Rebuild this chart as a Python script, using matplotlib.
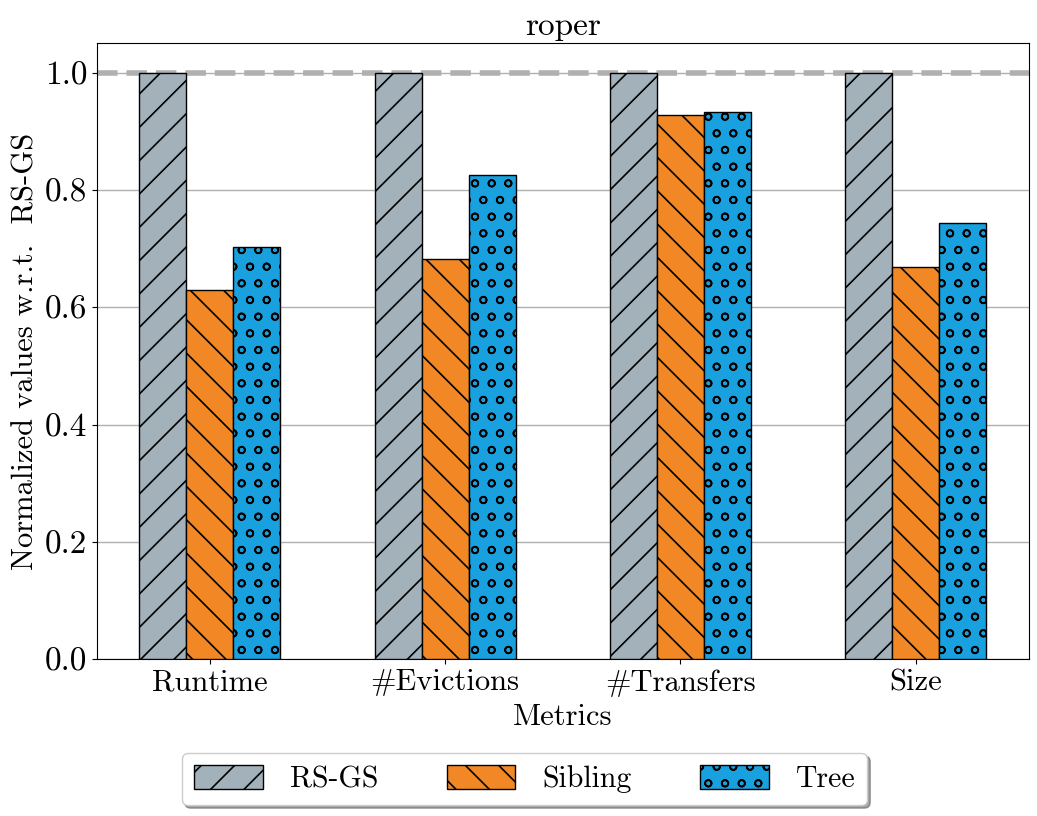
import matplotlib
matplotlib.use("Agg")
import matplotlib.pyplot as plt
import numpy as np

metrics = ["Runtime", "#Evictions", "#Transfers", "Size"]
rsgs = [1.0, 1.0, 1.0, 1.0]
sibling = [0.630, 0.683, 0.927, 0.668]
tree = [0.702, 0.826, 0.932, 0.744]

series = [
    ("RS-GS", rsgs, "#A3B1BA", "/"),
    ("Sibling", sibling, "#F18825", "\\"),
    ("Tree", tree, "#19A1DF", "o"),
]

plt.rcParams["font.family"] = "cmr10"
plt.rcParams["mathtext.fontset"] = "cm"
plt.rcParams["axes.formatter.use_mathtext"] = True
plt.rcParams["hatch.linewidth"] = 1.2

fig, ax = plt.subplots(figsize=(10.37, 8.16), dpi=100)
fig.subplots_adjust(left=0.0935, right=0.992, top=0.947, bottom=0.192)

x = np.arange(len(metrics))
width = 0.2
for i, (label, vals, color, hatch) in enumerate(series):
    ax.bar(x + (i - 1) * width, vals, width, color=color, edgecolor="black",
           linewidth=1.0, hatch=hatch, label=label, zorder=3)

ax.axhline(1.0, color="#b0b0b0", linestyle="--", linewidth=4, zorder=2)
ax.yaxis.grid(True, color="#b0b0b0", linewidth=1, zorder=0)
ax.set_axisbelow(True)

ax.set_ylim(0, 1.05)
ax.set_yticks([0.0, 0.2, 0.4, 0.6, 0.8, 1.0])
ax.set_yticklabels(["0.0", "0.2", "0.4", "0.6", "0.8", "1.0"])
ax.tick_params(axis="y", labelsize=24)
ax.set_xticks(x)
ax.set_xticklabels(metrics, fontsize=22)
ax.set_xlabel("Metrics", fontsize=22, labelpad=5)
ax.set_ylabel("Normalized values w.r.t.  RS-GS", fontsize=22)
ax.set_title("roper", fontsize=24, pad=6)

fig.legend(loc="center", bbox_to_anchor=(0.506, 0.045), ncol=3, fontsize=21.5,
           fancybox=True, shadow=True, handlelength=2.3, handleheight=0.85,
           columnspacing=2.3, handletextpad=0.9)

fig.savefig("out.png", dpi=100)
